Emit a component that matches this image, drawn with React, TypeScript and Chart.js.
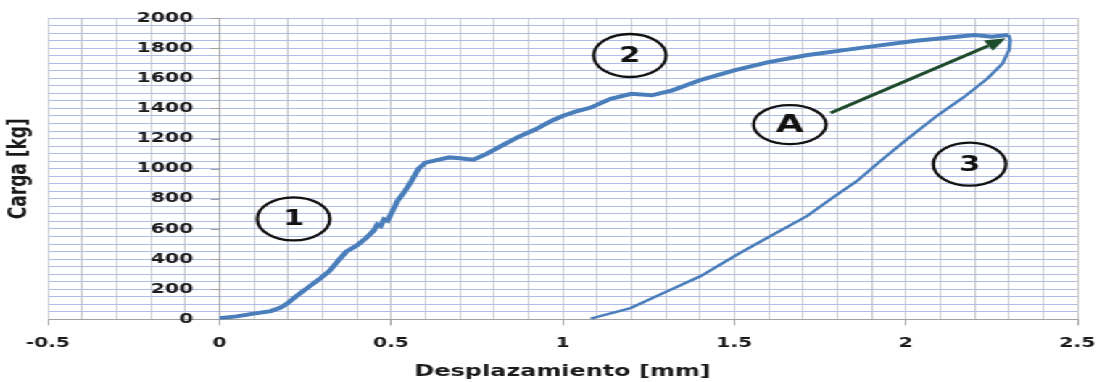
import React, { useEffect, useRef } from "react";
import { Chart, registerables } from "chart.js";

Chart.register(...registerables);

// ---- data ----
const loadX = [0, 0.05, 0.1, 0.15, 0.18, 0.2, 0.23, 0.26, 0.29, 0.32, 0.35, 0.37, 0.4, 0.43, 0.45, 0.46, 0.47, 0.48, 0.49, 0.5, 0.52, 0.54, 0.56, 0.58, 0.6, 0.63, 0.67, 0.7, 0.74, 0.78, 0.82, 0.87, 0.92, 0.97, 1.0, 1.04, 1.08, 1.14, 1.2, 1.26, 1.32, 1.4, 1.5, 1.6, 1.71, 1.82, 1.93, 2.03, 2.15, 2.2, 2.25, 2.3];
const loadY = [8, 20, 38, 55, 80, 110, 165, 215, 265, 320, 400, 450, 490, 545, 590, 630, 620, 665, 655, 700, 790, 850, 920, 1000, 1040, 1055, 1075, 1070, 1060, 1100, 1150, 1210, 1260, 1320, 1350, 1380, 1404, 1464, 1497, 1487, 1520, 1587, 1653, 1707, 1753, 1787, 1820, 1849, 1876, 1887, 1876, 1887];

const unloadX = [2.3, 2.304, 2.301, 2.282, 2.238, 2.17, 2.092, 2.005, 1.927, 1.859, 1.781, 1.713, 1.606, 1.509, 1.402, 1.305, 1.198, 1.14, 1.082];
const unloadY = [1887, 1853, 1787, 1698, 1598, 1476, 1353, 1198, 1053, 920, 798, 687, 553, 431, 287, 187, 75, 40, 5];

const xTickLabels = [-0.5, 0, 0.5, 1, 1.5, 2, 2.5];
const yTickLabels = [0, 200, 400, 600, 800, 1000, 1200, 1400, 1600, 1800, 2000];

const markerLabels = ["1", "2", "3", "A"];
const markerX = [0.216, 1.196, 2.186, 1.662];
const markerY = [667, 1751, 1030, 1293];

const arrowFromX = 1.781;
const arrowFromY = 1369;
const arrowToX = 2.291;
const arrowToY = 1865;

const xTitle = "Desplazamiento [mm]";
const yTitle = "Carga [kg]";

// ---- layout ----
const STRETCH = 1.45;
const W = Math.round(1099 / STRETCH);
const H = 382;
const Y_AXIS_AT = 0;
const TEXT = "#1a1a1a";
const AXIS = "#a0a0a0";
const TICK_FONT = "bold 14px 'DejaVu Sans'";

// y-axis labels/ticks drawn beside the axis that crosses at x = 0
const yAxisLabelsPlugin = {
  id: "yAxisLabels",
  afterDraw(chart: any) {
    const { ctx, scales } = chart;
    const axisX = scales.x.getPixelForValue(Y_AXIS_AT);
    ctx.save();
    ctx.font = TICK_FONT;
    ctx.fillStyle = TEXT;
    ctx.textAlign = "right";
    ctx.textBaseline = "middle";
    ctx.strokeStyle = AXIS;
    ctx.lineWidth = 1;
    yTickLabels.forEach((v) => {
      const py = scales.y.getPixelForValue(v);
      const ly = Math.round(py) + 0.5;
      ctx.beginPath();
      ctx.moveTo(axisX - 6, ly);
      ctx.lineTo(axisX, ly);
      ctx.stroke();
      ctx.fillText(String(v), axisX - 18, py);
    });
    ctx.restore();
  },
};

const annotationPlugin = {
  id: "annotations",
  afterDatasetsDraw(chart: any) {
    const { ctx, scales } = chart;
    const xs = scales.x;
    const ys = scales.y;
    ctx.save();
    markerLabels.forEach((lab, i) => {
      const px = xs.getPixelForValue(markerX[i]);
      const py = ys.getPixelForValue(markerY[i]);
      ctx.beginPath();
      ctx.ellipse(px, py, 25, lab === "A" ? 19.5 : 21.5, 0, 0, Math.PI * 2);
      ctx.lineWidth = 2.3;
      ctx.strokeStyle = "#111";
      ctx.stroke();
      ctx.fillStyle = "#111";
      ctx.textAlign = "center";
      ctx.textBaseline = "middle";
      ctx.font = lab === "A" ? "bold 25px 'DejaVu Sans'" : "bold 21px 'DejaVu Sans'";
      ctx.fillText(lab, px, py + 1);
    });
    const x1 = xs.getPixelForValue(arrowFromX);
    const y1 = ys.getPixelForValue(arrowFromY);
    const x2 = xs.getPixelForValue(arrowToX);
    const y2 = ys.getPixelForValue(arrowToY);
    const ang = Math.atan2(y2 - y1, x2 - x1);
    const headLen = 14;
    const headW = 6;
    const bx = x2 - headLen * Math.cos(ang);
    const by = y2 - headLen * Math.sin(ang);
    ctx.strokeStyle = "#1d4a2b";
    ctx.fillStyle = "#1d4a2b";
    ctx.lineWidth = 3;
    ctx.beginPath();
    ctx.moveTo(x1, y1);
    ctx.lineTo(bx, by);
    ctx.stroke();
    ctx.beginPath();
    ctx.moveTo(x2, y2);
    ctx.lineTo(bx + headW * Math.sin(ang), by - headW * Math.cos(ang));
    ctx.lineTo(bx - headW * Math.sin(ang), by + headW * Math.cos(ang));
    ctx.closePath();
    ctx.fill();
    ctx.restore();
  },
};

const round1 = (v: number) => Math.round(v * 10) / 10;

export default function App() {
  const ref = useRef<HTMLCanvasElement | null>(null);

  useEffect(() => {
    if (!ref.current) return;
    const tickFont = { family: "'DejaVu Sans'", size: 14, weight: "bold" as const };
    const chart = new Chart(ref.current, {
      type: "line",
      data: {
        datasets: [
          {
            label: "Carga",
            data: loadX.map((x, i) => ({ x, y: loadY[i] })),
            borderColor: "#4a7ebb",
            borderWidth: 4,
            pointRadius: 0,
            tension: 0,
            fill: false,
          },
          {
            label: "Descarga",
            data: unloadX.map((x, i) => ({ x, y: unloadY[i] })),
            borderColor: "#4a7ebb",
            borderWidth: 2.5,
            pointRadius: 0,
            tension: 0,
            fill: false,
          },
        ],
      },
      options: {
        responsive: false,
        animation: false,
        devicePixelRatio: 1,
        layout: { padding: { top: 18, right: 15, left: 2, bottom: 0 } },
        plugins: { legend: { display: false }, tooltip: { enabled: false } },
        scales: {
          x: {
            type: "linear",
            min: -0.5,
            max: 2.5,
            afterFit: (scale: any) => {
              scale.paddingRight = 12;
            },
            ticks: {
              stepSize: 0.1,
              autoSkip: false,
              maxRotation: 0,
              minRotation: 0,
              padding: 10,
              color: TEXT,
              font: tickFont,
              callback: (v: any) => {
                const r = round1(Number(v));
                return xTickLabels.includes(r) ? String(r) : "";
              },
            },
            grid: {
              color: "#c9c9c9",
              lineWidth: 1,
              tickLength: 6,
              tickColor: (c: any) =>
                xTickLabels.includes(round1(c.tick?.value ?? 0)) ? AXIS : "rgba(0,0,0,0)",
            },
            border: { color: AXIS, width: 1 },
            title: {
              display: true,
              text: xTitle,
              color: TEXT,
              font: { family: "'DejaVu Sans'", size: 16.5, weight: "bold" },
              padding: { top: 0, bottom: 0 },
            },
          },
          y: {
            type: "linear",
            min: 0,
            max: 2000,
            position: { x: Y_AXIS_AT } as any,
            ticks: {
              stepSize: 50,
              autoSkip: false,
              display: false,
            },
            grid: {
              color: "#b3bce6",
              lineWidth: 1,
              drawTicks: false,
            },
            border: { color: AXIS, width: 1 },
          },
          yTitle: {
            type: "linear",
            position: "left",
            ticks: { display: false },
            grid: { display: false, drawTicks: false },
            border: { display: false },
            title: {
              display: true,
              text: yTitle,
              color: TEXT,
              font: { family: "'DejaVu Sans'", size: 17, weight: "bold" },
              padding: { top: 1.8, bottom: 8.8 },
            },
          },
        },
      },
      plugins: [annotationPlugin, yAxisLabelsPlugin],
    } as any);
    return () => chart.destroy();
  }, []);

  return (
    <div
      style={{
        position: "fixed",
        left: 0,
        top: 0,
        width: W,
        height: H,
        background: "#ffffff",
        transform: `scaleX(${STRETCH})`,
        transformOrigin: "0 0",
      }}
    >
      <canvas ref={ref} width={W} height={H} />
    </div>
  );
}
